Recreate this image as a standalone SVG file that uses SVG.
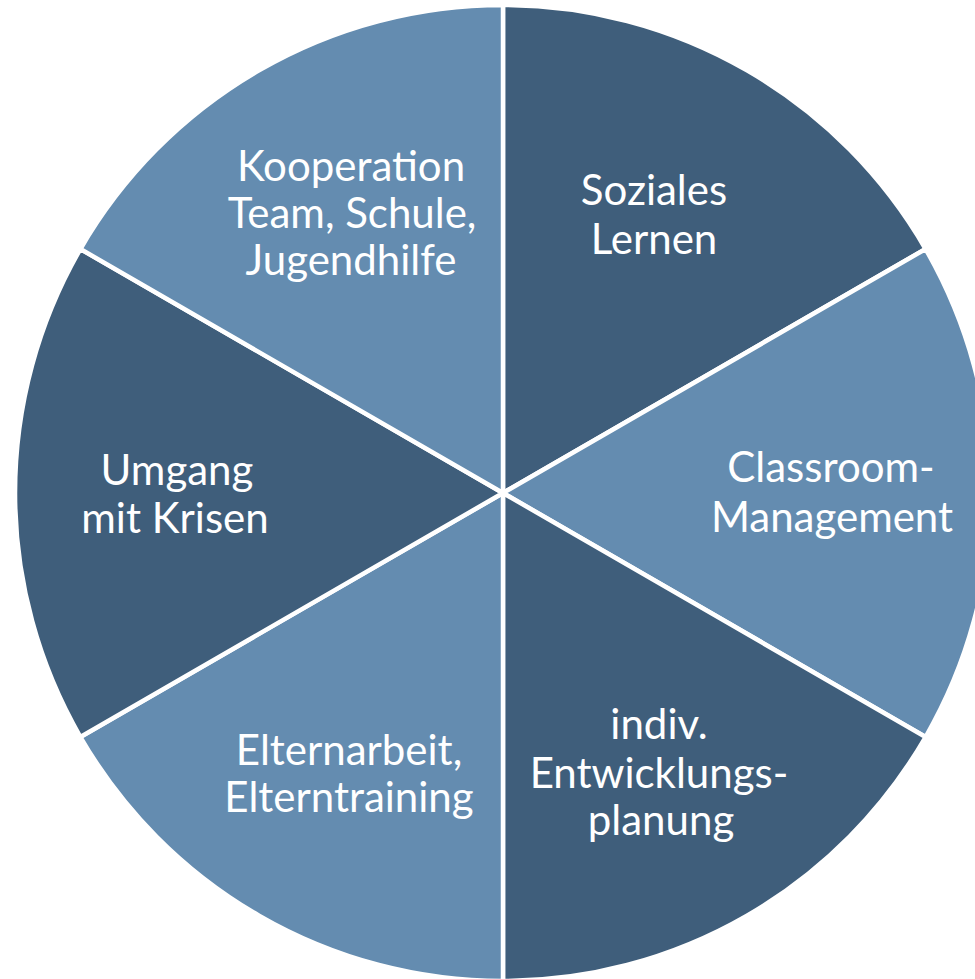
<svg xmlns="http://www.w3.org/2000/svg" width="975" height="979" viewBox="0 0 975 979">
  <style>
    .seg { stroke: #ffffff; stroke-width: 4.5; stroke-linejoin: miter; }
    .dark { fill: #3f5e7b; }
    .light { fill: #648cb0; }
    .lbl { font-family: "Lato", "Open Sans", "Noto Sans", sans-serif; font-size: 42px; fill: #ffffff; text-anchor: middle; }
  </style>
  <rect width="975" height="979" fill="#ffffff"/>

  <!-- six equal wedges around centre (503, 493) -->
  <g id="soziales-lernen">
    <path class="seg dark" d="M503 493 L503 5 A488 488 0 0 1 925.6 249 Z"/>
    <text class="lbl" x="654" y="205">Soziales</text>
    <text class="lbl" x="654" y="254">Lernen</text>
  </g>

  <g id="classroom-management">
    <path class="seg light" d="M503 493 L925.6 249 A488 488 0 0 1 925.6 737 Z"/>
    <text class="lbl" x="831" y="482">Classroom-</text>
    <text class="lbl" x="832" y="532">Management</text>
  </g>

  <g id="entwicklungsplanung">
    <path class="seg dark" d="M503 493 L925.6 737 A488 488 0 0 1 503 981 Z"/>
    <text class="lbl" x="659" y="739">indiv.</text>
    <text class="lbl" x="659" y="788">Entwicklungs-</text>
    <text class="lbl" x="661" y="835">planung</text>
  </g>

  <g id="elternarbeit">
    <path class="seg light" d="M503 493 L503 981 A488 488 0 0 1 80.4 737 Z"/>
    <text class="lbl" x="349" y="765">Elternarbeit,</text>
    <text class="lbl" x="349" y="812">Elterntraining</text>
  </g>

  <g id="umgang-mit-krisen">
    <path class="seg dark" d="M503 493 L80.4 737 A488 488 0 0 1 80.4 249 Z"/>
    <text class="lbl" x="177" y="485">Umgang</text>
    <text class="lbl" x="175" y="533">mit Krisen</text>
  </g>

  <g id="kooperation">
    <path class="seg light" d="M503 493 L80.4 249 A488 488 0 0 1 503 5 Z"/>
    <text class="lbl" x="351" y="181">Kooperation</text>
    <text class="lbl" x="352" y="228">Team, Schule,</text>
    <text class="lbl" x="351" y="275">Jugendhilfe</text>
  </g>
</svg>
